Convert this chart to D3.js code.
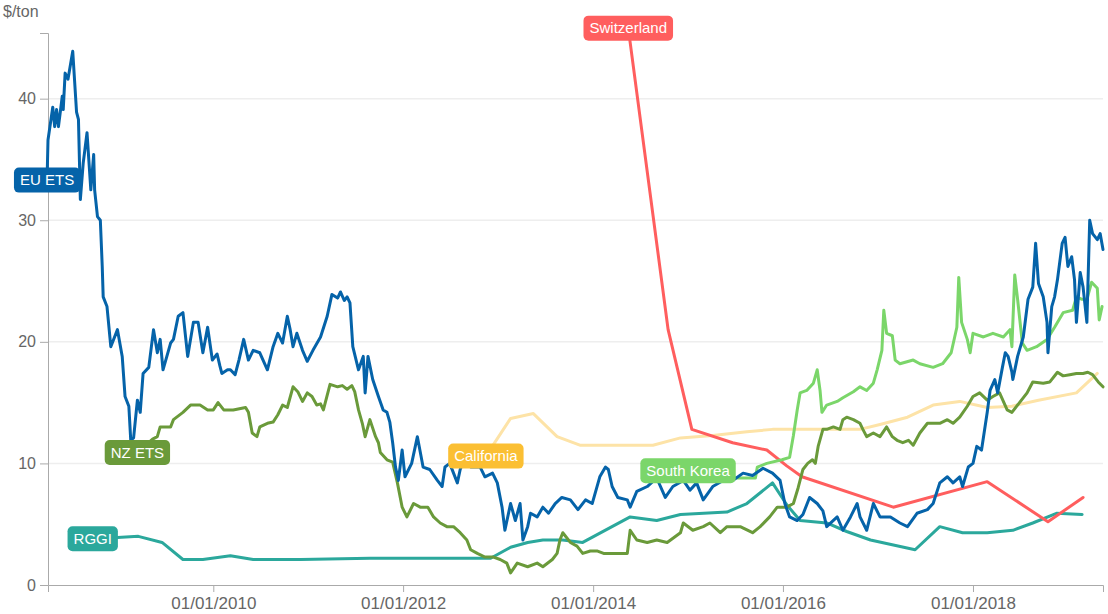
<!DOCTYPE html>
<html>
<head>
<meta charset="utf-8">
<script src="https://cdn.jsdelivr.net/npm/d3@7/dist/d3.min.js"></script>
<style>
  body { margin: 0; background: #fff; font-family: "Liberation Sans", Arial, sans-serif; }
  .axis text { fill: #666; }
  .axis path, .axis line { stroke: #aaa; }
</style>
</head>
<body>
<svg id="chart" width="1108" height="614"></svg>
<script>
// prices, $/ton, as [decimal year, value]
var euEts = [
  [2008.25,33.3],[2008.26,36.6],[2008.31,39.3],[2008.33,37.7],[2008.35,39.1],[2008.37,37.7],[2008.41,40.2],[2008.42,39.1],
  [2008.44,42.1],[2008.47,41.6],[2008.52,43.9],[2008.56,38.9],[2008.58,38.3],[2008.60,31.7],[2008.63,34.7],[2008.67,37.2],
  [2008.71,32.5],[2008.74,35.4],[2008.75,32.5],[2008.78,30.3],[2008.81,30.0],[2008.83,26.2],[2008.84,23.7],[2008.88,22.9],
  [2008.92,19.6],[2008.99,21.0],[2009.04,18.8],[2009.07,15.5],[2009.11,14.7],[2009.13,11.9],[2009.16,12.1],[2009.20,15.2],
  [2009.23,14.2],[2009.26,17.4],[2009.32,17.9],[2009.37,21.0],[2009.41,19.1],[2009.44,20.2],[2009.47,17.7],[2009.55,19.9],
  [2009.58,20.2],[2009.63,22.1],[2009.68,22.4],[2009.73,18.8],[2009.79,21.6],[2009.84,21.6],[2009.89,19.1],[2009.94,21.2],
  [2009.99,18.5],[2010.04,19.0],[2010.07,18.0],[2010.09,17.4],[2010.15,17.7],[2010.18,17.7],[2010.23,17.3],[2010.27,18.5],
  [2010.32,20.2],[2010.37,18.5],[2010.42,19.3],[2010.49,19.1],[2010.57,17.7],[2010.63,19.6],[2010.68,20.7],[2010.73,19.9],
  [2010.78,22.1],[2010.81,21.0],[2010.84,19.6],[2010.88,20.7],[2010.94,19.3],[2010.99,18.4],[2011.05,19.3],[2011.13,20.4],
  [2011.20,22.1],[2011.25,23.9],[2011.31,23.6],[2011.34,24.1],[2011.38,23.4],[2011.41,23.7],[2011.44,23.2],[2011.47,19.6],
  [2011.53,17.7],[2011.58,18.8],[2011.60,15.8],[2011.63,18.8],[2011.68,16.9],[2011.74,15.5],[2011.79,14.4],[2011.83,14.2],
  [2011.86,13.4],[2011.89,11.7],[2011.92,9.7],[2011.95,8.6],[2011.99,11.1],[2012.02,8.9],[2012.09,10.0],[2012.15,12.2],
  [2012.21,9.7],[2012.28,9.5],[2012.36,8.6],[2012.41,8.1],[2012.44,9.7],[2012.49,10.0],[2012.57,8.4],[2012.60,9.5],
  [2012.65,10.5],[2012.71,9.7],[2012.81,9.7],[2012.86,8.9],[2012.94,9.2],[2012.99,8.4],[2013.04,6.4],[2013.07,4.5],
  [2013.13,6.7],[2013.18,5.3],[2013.23,6.7],[2013.26,3.7],[2013.31,4.8],[2013.34,5.9],[2013.41,5.6],[2013.47,6.4],
  [2013.53,5.9],[2013.60,6.7],[2013.67,7.2],[2013.76,7.0],[2013.84,6.2],[2013.92,7.0],[2013.99,6.7],[2014.07,8.9],
  [2014.13,9.7],[2014.16,9.5],[2014.20,8.1],[2014.26,7.2],[2014.36,7.0],[2014.39,6.4],[2014.46,7.7],[2014.57,8.1],
  [2014.67,8.8],[2014.76,7.2],[2014.84,8.1],[2014.95,8.6],[2015.02,7.8],[2015.09,8.4],[2015.16,7.0],[2015.26,8.1],
  [2015.37,8.6],[2015.47,8.6],[2015.58,9.2],[2015.68,9.0],[2015.79,9.6],[2015.89,9.2],[2015.97,8.6],[2016.02,6.7],
  [2016.07,5.6],[2016.15,5.3],[2016.21,5.8],[2016.28,7.2],[2016.36,6.7],[2016.42,6.1],[2016.46,4.8],[2016.57,5.6],
  [2016.63,4.5],[2016.71,5.6],[2016.78,6.7],[2016.81,5.6],[2016.88,4.5],[2016.95,6.7],[2017.02,5.6],[2017.13,5.6],
  [2017.23,5.1],[2017.31,4.8],[2017.41,5.9],[2017.52,6.2],[2017.58,6.7],[2017.65,8.4],[2017.73,8.9],[2017.79,8.4],
  [2017.86,8.9],[2017.89,8.1],[2017.95,9.7],[2018.00,10.0],[2018.04,11.4],[2018.09,11.1],[2018.15,14.2],[2018.18,16.0],
  [2018.23,16.9],[2018.26,15.8],[2018.31,17.9],[2018.34,19.1],[2018.37,18.8],[2018.41,17.5],[2018.42,16.9],[2018.47,18.8],
  [2018.53,20.4],[2018.58,23.5],[2018.63,24.5],[2018.66,28.1],[2018.69,24.8],[2018.74,23.7],[2018.78,21.6],[2018.79,19.1],
  [2018.83,22.9],[2018.86,23.7],[2018.89,25.1],[2018.94,28.1],[2018.97,28.6],[2019.00,26.2],[2019.04,27.0],[2019.07,25.1],
  [2019.09,21.6],[2019.13,25.7],[2019.16,24.5],[2019.20,21.6],[2019.23,30.0],[2019.26,28.9],[2019.31,28.4],[2019.34,28.9],
  [2019.37,27.6]
];

var nzEts = [
  [2009.20,10.9],[2009.36,12.0],[2009.41,12.2],[2009.44,13.0],[2009.55,13.0],[2009.58,13.6],[2009.68,14.2],[2009.76,14.8],
  [2009.86,14.8],[2009.94,14.4],[2010.00,14.4],[2010.05,15.0],[2010.11,14.4],[2010.21,14.4],[2010.34,14.6],[2010.37,14.2],
  [2010.41,12.5],[2010.46,12.2],[2010.49,13.0],[2010.57,13.3],[2010.63,13.4],[2010.68,14.0],[2010.73,14.8],[2010.78,14.6],
  [2010.84,16.3],[2010.89,15.9],[2010.94,15.1],[2010.99,15.8],[2011.04,15.5],[2011.09,14.8],[2011.13,14.9],[2011.16,14.4],
  [2011.23,16.5],[2011.31,16.3],[2011.36,16.4],[2011.41,16.1],[2011.46,16.4],[2011.49,15.9],[2011.53,14.4],[2011.57,13.3],
  [2011.60,12.2],[2011.65,13.6],[2011.71,12.2],[2011.74,11.7],[2011.76,10.9],[2011.83,10.3],[2011.89,10.1],[2011.94,8.4],
  [2011.99,6.4],[2012.04,5.6],[2012.11,6.7],[2012.18,6.4],[2012.26,6.4],[2012.32,5.6],[2012.39,5.1],[2012.46,4.8],
  [2012.53,4.8],[2012.60,4.3],[2012.67,3.7],[2012.71,2.9],[2012.78,2.6],[2012.86,2.3],[2012.95,2.3],[2013.02,2.1],
  [2013.09,1.8],[2013.13,1.0],[2013.20,1.8],[2013.31,1.5],[2013.41,1.8],[2013.47,1.5],[2013.57,2.1],[2013.62,2.6],
  [2013.65,3.7],[2013.68,4.3],[2013.76,3.5],[2013.83,3.2],[2013.89,2.6],[2013.97,2.8],[2014.04,2.8],[2014.11,2.6],
  [2014.21,2.6],[2014.36,2.6],[2014.39,4.5],[2014.46,3.7],[2014.57,3.5],[2014.67,3.7],[2014.78,3.5],[2014.92,4.3],
  [2014.95,5.1],[2015.05,4.5],[2015.16,4.8],[2015.23,5.1],[2015.34,4.3],[2015.41,4.8],[2015.55,4.8],[2015.68,4.3],
  [2015.76,4.8],[2015.86,5.6],[2015.94,6.4],[2016.04,6.4],[2016.11,6.7],[2016.16,8.0],[2016.21,9.5],[2016.26,10.0],
  [2016.31,10.3],[2016.34,10.0],[2016.37,11.4],[2016.42,12.8],[2016.46,12.8],[2016.53,13.0],[2016.60,12.8],[2016.63,13.6],
  [2016.67,13.8],[2016.74,13.6],[2016.81,13.3],[2016.84,12.8],[2016.88,12.2],[2016.95,12.5],[2017.02,12.2],[2017.09,13.0],
  [2017.15,12.2],[2017.20,11.9],[2017.26,11.7],[2017.32,11.9],[2017.37,11.5],[2017.44,12.5],[2017.52,13.3],[2017.65,13.3],
  [2017.73,13.6],[2017.79,13.3],[2017.86,13.8],[2017.94,14.7],[2018.00,15.5],[2018.07,15.8],[2018.15,15.2],[2018.21,15.5],
  [2018.28,15.8],[2018.36,14.4],[2018.41,14.2],[2018.49,15.0],[2018.57,15.8],[2018.63,16.7],[2018.74,16.6],[2018.81,16.7],
  [2018.89,17.5],[2018.95,17.2],[2019.02,17.3],[2019.09,17.4],[2019.16,17.4],[2019.21,17.5],[2019.26,17.3],[2019.32,16.7],
  [2019.37,16.3]
];

var rggi = [
  [2008.73,3.8],[2008.99,3.9],[2009.21,4.0],[2009.46,3.5],[2009.68,2.1],[2009.89,2.1],[2010.18,2.4],[2010.42,2.1],
  [2010.92,2.1],[2011.65,2.2],[2012.92,2.2],[2013.13,3.1],[2013.31,3.5],[2013.47,3.7],[2013.68,3.7],[2013.89,3.5],
  [2014.39,5.6],[2014.67,5.3],[2014.92,5.8],[2015.41,6.0],[2015.62,6.7],[2015.89,8.4],[2016.04,6.6],[2016.18,5.3],
  [2016.46,5.1],[2016.67,4.4],[2016.92,3.7],[2017.39,2.9],[2017.65,4.8],[2017.89,4.3],[2018.15,4.3],[2018.42,4.5],
  [2018.63,5.1],[2018.88,5.9],[2019.15,5.8]
];

var california = [
  [2012.87,10.6],[2013.13,13.7],[2013.37,14.1],[2013.62,12.2],[2013.86,11.5],[2014.63,11.5],[2014.92,12.1],[2015.26,12.3],
  [2015.62,12.6],[2015.89,12.8],[2016.81,12.8],[2017.02,13.2],[2017.31,13.8],[2017.58,14.8],[2017.86,15.1],[2018.15,14.6],
  [2018.41,14.7],[2018.69,15.2],[2019.09,15.8],[2019.20,16.6],[2019.31,17.4]
];

var southKorea = [
  [2015.00,9.4],[2015.47,8.8],[2015.71,8.8],[2015.73,9.7],[2015.83,10.0],[2015.99,10.3],[2016.07,10.5],[2016.11,12.3],
  [2016.15,14.4],[2016.18,15.8],[2016.25,16.0],[2016.32,16.6],[2016.36,17.7],[2016.39,16.0],[2016.41,14.2],[2016.46,14.8],
  [2016.57,15.1],[2016.63,15.4],[2016.74,15.9],[2016.81,16.3],[2016.88,16.0],[2016.95,16.6],[2016.99,17.7],[2017.04,19.3],
  [2017.06,22.6],[2017.09,20.7],[2017.15,20.5],[2017.18,18.5],[2017.23,18.2],[2017.37,18.5],[2017.44,18.2],[2017.58,17.9],
  [2017.68,18.2],[2017.77,19.1],[2017.83,21.2],[2017.85,25.3],[2017.88,21.6],[2017.94,20.2],[2017.97,19.1],[2018.00,20.7],
  [2018.11,20.4],[2018.21,20.7],[2018.32,20.4],[2018.39,21.0],[2018.41,19.6],[2018.44,25.5],[2018.47,23.5],[2018.52,19.9],
  [2018.57,19.3],[2018.67,19.6],[2018.78,20.2],[2018.86,21.2],[2018.95,22.4],[2019.05,22.6],[2019.09,23.7],[2019.15,23.5],
  [2019.20,23.5],[2019.25,24.9],[2019.31,24.4],[2019.33,21.8],[2019.36,22.9]
];

var switzerland = [
  [2014.37,45.8],[2014.79,21.0],[2015.04,12.8],[2015.47,11.7],[2015.83,11.1],[2016.04,9.8],[2016.20,8.9],[2017.16,6.4],
  [2018.15,8.5],[2018.79,5.2],[2019.16,7.2]
];

var yTicks = [0, 10, 20, 30, 40];
var xTickYears = [2010, 2012, 2014, 2016, 2018];

// decimal year to a Date
function yr(d) {
  var y = Math.floor(d);
  var a = new Date(y, 0, 1), b = new Date(y + 1, 0, 1);
  return new Date(+a + (d - y) * (b - a));
}

var series = [
  { name: "California", data: california, line: "#fde3a7", label: "#fbbf33" },
  { name: "RGGI", data: rggi, line: "#2ba89c", label: "#2ba89c" },
  { name: "Switzerland", data: switzerland, line: "#ff5e5e", label: "#ff5e5e" },
  { name: "NZ ETS", data: nzEts, line: "#6a9a3a", label: "#6a9a3a" },
  { name: "South Korea", data: southKorea, line: "#7bd66a", label: "#7bd66a" },
  { name: "EU ETS", data: euEts, line: "#0563a9", label: "#0563a9" }
];

var svg = d3.select("#chart");

var x = d3.scaleTime()
    .domain([yr(2008.26), yr(2019.37)])
    .range([48, 1103]);

var y = d3.scaleLinear()
    .domain([0, 45.4])
    .range([585, 33]);

// gridlines
svg.append("g")
  .selectAll("line")
  .data(yTicks.filter(function(d) { return d > 0; }))
  .enter().append("line")
    .attr("x1", 48).attr("x2", 1103)
    .attr("y1", function(d) { return y(d); })
    .attr("y2", function(d) { return y(d); })
    .attr("stroke", "#eeeeee")
    .attr("stroke-width", 1.5);

var xAxis = svg.append("g")
    .attr("class", "axis")
    .attr("transform", "translate(0,585)")
    .call(d3.axisBottom(x)
      .tickValues(xTickYears.map(function(d) { return new Date(d, 0, 1); }))
      .tickFormat(d3.timeFormat("%m/%d/%Y"))
      .tickSize(7)
      .tickPadding(5));
xAxis.selectAll("text").style("font-size", "17px");

var yAxis = svg.append("g")
    .attr("class", "axis")
    .attr("transform", "translate(48,0)")
    .call(d3.axisLeft(y)
      .tickValues(yTicks)
      .tickSize(8)
      .tickPadding(4));
yAxis.selectAll("text").style("font-size", "16px");

svg.append("text")
    .attr("x", 3)
    .attr("y", 17)
    .attr("fill", "#666")
    .style("font-size", "16px")
    .text("$/ton");

var line = d3.line()
    .x(function(d) { return x(yr(d[0])); })
    .y(function(d) { return y(d[1]); });

svg.append("g")
  .selectAll("path")
  .data(series)
  .enter().append("path")
    .attr("d", function(d) { return line(d.data); })
    .attr("fill", "none")
    .attr("stroke", function(d) { return d.line; })
    .attr("stroke-width", 3)
    .attr("stroke-linejoin", "round")
    .attr("stroke-linecap", "round");

// name tags sit on each series' first point
var tags = svg.append("g")
  .selectAll("g")
  .data(series)
  .enter().append("g")
    .attr("transform", function(d) {
      var p = d.data[0];
      return "translate(" + x(yr(p[0])) + "," + y(p[1]) + ")";
    });

tags.append("rect").attr("rx", 5).attr("ry", 5)
    .attr("fill", function(d) { return d.label; });

tags.append("text")
    .attr("text-anchor", "middle")
    .attr("dy", "0.35em")
    .attr("fill", "#fff")
    .style("font-size", "15px")
    .text(function(d) { return d.name; });

tags.each(function() {
  var g = d3.select(this);
  var w = g.select("text").node().getComputedTextLength() + 12;
  g.select("rect")
    .attr("x", -w / 2).attr("y", -12.5)
    .attr("width", w).attr("height", 25);
});
</script>
</body>
</html>
